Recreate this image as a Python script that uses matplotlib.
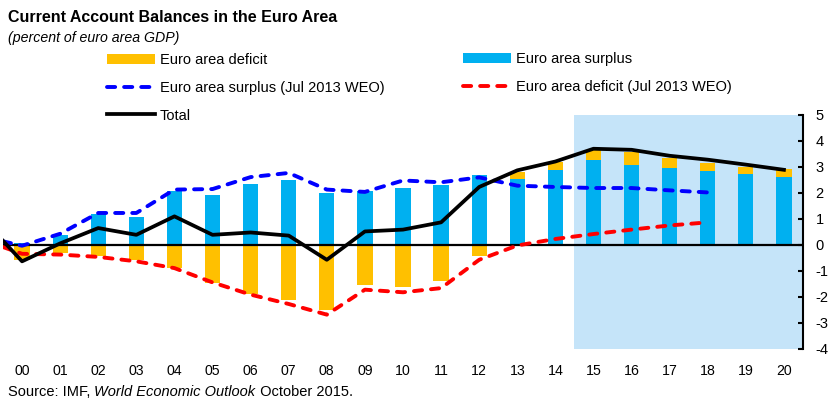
import matplotlib.pyplot as plt
import numpy as np

plt.rcParams["font.family"] = ["Liberation Sans", "DejaVu Sans"]
plt.rcParams["axes.unicode_minus"] = False

years = ["00", "01", "02", "03", "04", "05", "06", "07", "08", "09", "10",
         "11", "12", "13", "14", "15", "16", "17", "18", "19", "20"]
surplus = [0.05, 0.38, 1.19, 1.06, 2.05, 1.92, 2.35, 2.50, 1.99, 2.05, 2.20,
           2.28, 2.69, 2.54, 2.88, 3.24, 3.08, 2.96, 2.85, 2.73, 2.62]
deficit = [-0.58, -0.32, -0.45, -0.58, -0.90, -1.47, -1.88, -2.12, -2.53, -1.54, -1.63,
           -1.41, -0.42, 0.24, 0.29, 0.39, 0.50, 0.37, 0.29, 0.24, 0.29]
# lines start at the left edge of the axis, then one value per year
total = [0.15, -0.64, 0.05, 0.64, 0.38, 1.09, 0.38, 0.47, 0.35, -0.58, 0.51, 0.58,
         0.86, 2.22, 2.86, 3.20, 3.69, 3.65, 3.42, 3.27, 3.08, 2.88]
surplus_weo = [0.13, -0.04, 0.42, 1.22, 1.22, 2.12, 2.14, 2.60, 2.76, 2.12, 2.03,
               2.47, 2.40, 2.59, 2.27, 2.22, 2.18, 2.18, 2.09, 2.01]
deficit_weo = [-0.09, -0.35, -0.38, -0.47, -0.64, -0.90, -1.45, -1.92, -2.28, -2.69, -1.73,
               -1.83, -1.67, -0.58, -0.03, 0.22, 0.41, 0.58, 0.74, 0.86]
proj_start = 14.5

x = np.arange(len(years))
surplus = np.array(surplus)
deficit = np.array(deficit)
def_bottom = np.where(deficit > 0, surplus, 0)


def line_x(vals):
    return np.concatenate([[-0.5], np.arange(len(vals) - 1)])


fig = plt.figure(figsize=(8.34, 4.08), dpi=100)
ax = fig.add_axes([3 / 834, 1 - 348.7 / 408, 800 / 834, 234 / 408])

ax.axvspan(proj_start, 20.5, color="#C5E4F9", zorder=0, lw=0)

ax.bar(x, surplus, width=0.4, color="#00B0F0", zorder=2, label="Euro area surplus")
ax.bar(x, deficit, width=0.4, bottom=def_bottom, color="#FFC000", zorder=2,
       label="Euro area deficit")
ax.axhline(0, color="black", lw=1.6, zorder=3)

dash = (0, (2.1, 2.3))
ax.plot(line_x(surplus_weo), surplus_weo, color="#0000FF", lw=2.8, ls=dash,
        dash_capstyle="round", zorder=4, label="Euro area surplus (Jul 2013 WEO)")
ax.plot(line_x(deficit_weo), deficit_weo, color="#FF0000", lw=2.8, ls=dash,
        dash_capstyle="round", zorder=4, label="Euro area deficit (Jul 2013 WEO)")
ax.plot(line_x(total), total, color="black", lw=2.7, zorder=5, label="Total")

ax.set_xlim(-0.5, 20.5)
ax.set_ylim(-4, 5)
ax.set_xticks(x)
ax.set_xticklabels(years)
ax.set_yticks(range(-4, 6))
ax.yaxis.tick_right()
for s in ["left", "top", "bottom"]:
    ax.spines[s].set_visible(False)
ax.spines["right"].set_linewidth(1.5)
ax.tick_params(axis="x", length=0, pad=11, labelsize=10.2)
ax.tick_params(axis="y", direction="in", length=3.5, width=1.5, pad=9, labelsize=10.5)

# legend in two columns
h, l = ax.get_legend_handles_labels()
hd = dict(zip(l, h))
leg_kw = dict(frameon=False, fontsize=10.5, handlelength=3.3, handleheight=0.75,
              handletextpad=0.3, borderpad=0, borderaxespad=0, labelspacing=0.95,
              loc="upper left")
col1 = ["Euro area deficit", "Euro area surplus (Jul 2013 WEO)", "Total"]
col2 = ["Euro area surplus", "Euro area deficit (Jul 2013 WEO)"]
fig.legend([hd[k] for k in col1], col1, bbox_to_anchor=(107 / 834, 1 - 53 / 408), **leg_kw)
fig.legend([hd[k] for k in col2], col2, bbox_to_anchor=(463 / 834, 1 - 52 / 408), **leg_kw)

fig.text(8 / 834, 1 - 17 / 408, "Current Account Balances in the Euro Area",
         fontsize=11.5, fontweight="bold", va="center")
fig.text(8 / 834, 1 - 38 / 408, "(percent of euro area GDP)", fontsize=10.2,
         style="italic", va="center")

# source line with italic publication name
fig.canvas.draw()
r = fig.canvas.get_renderer()
xpos = 8
for txt, st in [("Source: IMF, ", "normal"), ("World Economic Outlook", "italic"),
                (" October 2015.", "normal")]:
    t = fig.text(xpos / 834, 1 - 392 / 408, txt, fontsize=10.5, style=st, va="center")
    xpos += t.get_window_extent(r).width

fig.savefig("out.png", dpi=100)
